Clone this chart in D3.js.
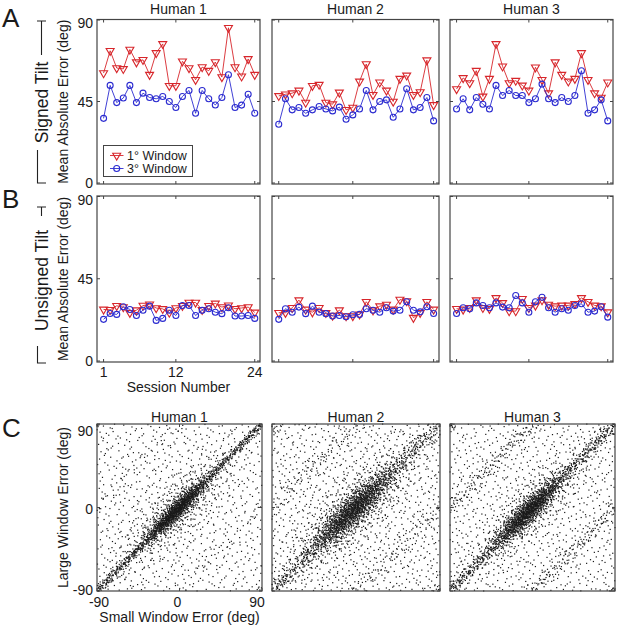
<!DOCTYPE html>
<html><head><meta charset="utf-8">
<script src="https://cdn.jsdelivr.net/npm/d3@7"></script>
<style>body{margin:0;background:#fff}svg{display:block}text{font-family:"Liberation Sans",Arial,Helvetica,sans-serif;fill:#1a1a1a}</style>
</head><body><div id="chart"></div>
<script>
// ---------------- DATA ----------------
const humans = ["Human 1", "Human 2", "Human 3"];
const sessions = [1,2,3,4,5,6,7,8,9,10,11,12,13,14,15,16,17,18,19,20,21,22,23,24];
const sessionTicks = [1, 12, 24];
const errorTicks = [0, 45, 90];
const scatterTicks = [-90, 0, 90];
const legendLabels = ["1\u00B0 Window", "3\u00B0 Window"];

// Panel A: signed tilt, mean absolute error (deg)
const signed1_H1 = [60.7,73,63.5,63,73.7,66.7,68,59.8,71.8,76.8,53.7,53.7,67.2,63.5,57,64,62,66.8,58.5,85.7,64,58.9,68.5,59.8];
const signed3_H1 = [35.7,53.9,44.4,46.9,53.9,44.4,49.6,47.2,46.5,47.8,45,41.7,47.8,51.1,38.5,51.1,46.5,43.1,47.2,59.8,41.7,43,49,38.5];
const signed1_H2 = [48.1,49,49.6,51.1,44.4,53.7,54.3,44.4,43.5,50,40.4,41.7,56.1,65.7,48.7,55.6,51.1,45,57.6,59.4,48.7,50.2,67.8,43.1];
const signed3_H2 = [32.4,46.5,40.4,41.7,38.5,40.4,42.2,40.9,39.8,41.9,35.2,37.6,40.9,51.1,40.4,45,45.9,36.3,40.9,52,40.4,41.7,47.2,34.3];
const signed1_H3 = [51.9,58,55.2,62,47.8,57.6,76.8,64.4,55.2,56.5,53.9,51.1,63.9,57,49.6,66.7,59.8,56.1,57.6,71.8,57,49.6,47.2,55.6];
const signed3_H3 = [40.9,46.5,40.4,47.2,43.5,40.9,53.9,48.3,51.1,48.3,48.3,44.4,46.5,54.6,46.5,44.4,47.2,45,48.3,62,38.5,40.4,45.9,34.3];

// Panel B: unsigned tilt
const unsigned1_H1 = [28.2,28,30.2,29.5,26.4,27.8,30.3,31,29,28.5,26.5,29,30.2,32,32,28,30.2,31.5,29.5,30.5,28.6,29,29.5,26.6];
const unsigned3_H1 = [22.8,26,25.5,29.7,28.2,24.9,27.8,30,22.2,23.3,27.8,24.9,30.4,30.4,24.9,27.7,28.6,26.7,25.9,29.1,24.6,24.6,24.9,23.3];
const unsigned1_H2 = [26.4,26.4,29.1,33.3,28.2,26.7,29.1,26.4,24.9,27.8,24.6,24.6,25.5,32.4,27.8,30,30.9,28.2,33.6,32.8,23.7,26.4,32.4,28.2];
const unsigned3_H2 = [22.8,28.6,26.7,29.5,25.9,30,26.7,25.9,24.6,24.9,24.2,25.3,25.5,28.6,27.8,26.7,29.1,27.3,27.8,32.4,27.8,26.9,29.7,26];
const unsigned1_H3 = [28.6,28.2,29.1,33.3,29.1,28.6,34.5,31.8,27.3,27.3,34,29.1,30.4,33.3,30.9,30,30.4,30.4,31.3,34.5,32.4,30.4,30,26.7];
const unsigned3_H3 = [26,29.1,28.6,31.8,30.4,29.1,31.8,29.5,29.1,35.8,31.8,26.7,32.4,34.9,29.1,26.7,28.6,27.8,30.4,31.3,26.7,27.3,29.7,24];

// Panel C: trial scatter, described by components
const scatterUniformN   = [800, 1000, 850];  // diffuse background trials
const scatterBandN      = [750, 600, 700];   // trials along the y = x diagonal
const scatterBandSD     = [2.2, 4.5, 3.5];
const scatterCoreN      = [900, 1100, 950];  // dense central cluster
const scatterCoreCenter = [-3, -3, -4];
const scatterCoreAlong  = [16, 20, 17];
const scatterCoreWidth  = [4.5, 7, 5.5];
const scatterHaloN      = [450, 550, 400];   // looser cloud around the centre
const scatterHaloAlong  = [30, 32, 30];
const scatterHaloWidth  = [14, 15, 13];
const scatterWrapN      = [60, 150, 260];    // band offset by 90 deg
const scatterWrapSD     = [7, 7, 6];

// ---------------- LAYOUT ----------------
const W = 617, H = 631;
const svg = d3.select("#chart").append("svg").attr("width", W).attr("height", H);
const RED = "#d7262b", BLUE = "#2b2bd0", AX = "#444";
const colsAB = [[97,260],[272,439],[450,613]];
const colsC  = [[97,262],[272,440],[450,615]];
const rowA = [19.5, 184], rowB = [196, 362], rowC = [424, 591];

const signedSets = [[signed1_H1, signed3_H1],[signed1_H2, signed3_H2],[signed1_H3, signed3_H3]];
const unsignedSets = [[unsigned1_H1, unsigned3_H1],[unsigned1_H2, unsigned3_H2],[unsigned1_H3, unsigned3_H3]];

function frame(x0, x1, y0, y1, xs, ys, xt, yt) {
  const g = svg.append("g");
  g.append("rect").attr("x", x0).attr("y", y0).attr("width", x1 - x0).attr("height", y1 - y0)
    .attr("fill", "none").attr("stroke", AX).attr("stroke-width", 1.2);
  xt.forEach(v => {
    const x = xs(v);
    g.append("line").attr("x1", x).attr("x2", x).attr("y1", y1).attr("y2", y1 - 3).attr("stroke", AX);
    g.append("line").attr("x1", x).attr("x2", x).attr("y1", y0).attr("y2", y0 + 3).attr("stroke", AX);
  });
  yt.forEach(v => {
    const y = ys(v);
    g.append("line").attr("x1", x0).attr("x2", x0 + 3).attr("y1", y).attr("y2", y).attr("stroke", AX);
    g.append("line").attr("x1", x1).attr("x2", x1 - 3).attr("y1", y).attr("y2", y).attr("stroke", AX);
  });
}

const triPath = "M-4,-2.3L4,-2.3L0,4.6Z";

function seriesPanel(col, row, sets, ci, showX) {
  const xs = d3.scaleLinear().domain([0, 24.8]).range(col);
  const ys = d3.scaleLinear().domain([0, 90]).range([row[1] - 1, row[0] + 0.5]);
  frame(col[0], col[1], row[0], row[1], xs, ys, sessionTicks, errorTicks);
  const line = d3.line().x((d, i) => xs(sessions[i])).y(d => ys(d));
  const g = svg.append("g");
  g.append("path").datum(sets[0]).attr("d", line).attr("fill", "none").attr("stroke", RED).attr("stroke-width", 0.9);
  g.selectAll(".tri").data(sets[0]).join("path").attr("d", triPath)
    .attr("transform", (d, i) => `translate(${xs(sessions[i])},${ys(d)})`)
    .attr("fill", "none").attr("stroke", RED).attr("stroke-width", 1.1);
  g.append("path").datum(sets[1]).attr("d", line).attr("fill", "none").attr("stroke", BLUE).attr("stroke-width", 0.9);
  g.selectAll(".cir").data(sets[1]).join("circle")
    .attr("cx", (d, i) => xs(sessions[i])).attr("cy", d => ys(d)).attr("r", 3)
    .attr("fill", "none").attr("stroke", BLUE).attr("stroke-width", 1.1);
  if (ci === 0) {
    errorTicks.forEach(v => {
      svg.append("text").attr("x", col[0] - 4).attr("y", ys(v) + (v === 90 ? 3 : 0))
        .attr("text-anchor", "end").attr("dominant-baseline", "central").attr("font-size", 14).text(v);
    });
    if (showX) {
      sessionTicks.forEach(v => {
        svg.append("text").attr("x", xs(v)).attr("y", row[1] + 15).attr("text-anchor", "middle")
          .attr("font-size", 14).text(v);
      });
      svg.append("text").attr("x", (col[0] + col[1]) / 2).attr("y", row[1] + 30).attr("text-anchor", "middle")
        .attr("font-size", 14).text("Session Number");
    }
  }
}

humans.forEach((h, ci) => {
  const cA = colsAB[ci];
  svg.append("text").attr("x", (cA[0] + cA[1]) / 2).attr("y", 13.5).attr("text-anchor", "middle").attr("font-size", 14).text(h);
  seriesPanel(cA, rowA, signedSets[ci], ci, false);
  seriesPanel(cA, rowB, unsignedSets[ci], ci, true);
});

// Legend (panel A, Human 1)
(function () {
  const lg = svg.append("g");
  lg.append("rect").attr("x", 103.5).attr("y", 145.5).attr("width", 89).attr("height", 31)
    .attr("fill", "#fff").attr("stroke", AX).attr("stroke-width", 1);
  const cols = [RED, BLUE];
  legendLabels.forEach((t, i) => {
    const y = 155.5 + i * 13;
    lg.append("line").attr("x1", 110).attr("x2", 123.5).attr("y1", y).attr("y2", y).attr("stroke", cols[i]).attr("stroke-width", 0.9);
    if (i === 0) lg.append("path").attr("d", triPath).attr("transform", `translate(116.7,${y})`).attr("fill", "none").attr("stroke", RED).attr("stroke-width", 1.1);
    else lg.append("circle").attr("cx", 116.7).attr("cy", y).attr("r", 3).attr("fill", "none").attr("stroke", BLUE).attr("stroke-width", 1.1);
    lg.append("text").attr("x", 127).attr("y", y + 4.3).attr("font-size", 12.5).text(t);
  });
})();

// Left side labels
function sideLabel(text, x, cy, fs) {
  svg.append("text").attr("transform", `translate(${x},${cy}) rotate(-90)`).attr("text-anchor", "middle")
    .attr("dominant-baseline", "central").attr("font-size", fs).text(text);
}
sideLabel("Mean Absolute Error (deg)", 63, (rowA[0] + rowA[1]) / 2, 14);
sideLabel("Mean Absolute Error (deg)", 63, (rowB[0] + rowB[1]) / 2, 14);
sideLabel("Signed Tilt", 42, 102.5, 17.5);
sideLabel("Unsigned Tilt", 42, 280.5, 17.5);
sideLabel("Large Window Error (deg)", 63, (rowC[0] + rowC[1]) / 2, 14);

function bracket(yTop, yTextTop, yTextBot, yBot) {
  const g = svg.append("g").attr("stroke", "#222").attr("stroke-width", 1.1).attr("fill", "none");
  g.append("path").attr("d", `M37,${yTop}H46M41.5,${yTop}V${yTextTop}`);
  g.append("path").attr("d", `M37.5,${yTextBot}V${yBot}H46`);
}
bracket(21, 55, 150, 183);
bracket(207, 216, 346, 363);

[["A", 27], ["B", 208], ["C", 437]].forEach(([t, y]) => {
  svg.append("text").attr("x", 2).attr("y", y).attr("font-size", 26).text(t);
});

// ---------------- PANEL C ----------------
// evenly spread (Halton) sample positions used to lay out the estimated components
function halton(i, b) { let f = 1, r = 0; while (i > 0) { f /= b; r += f * (i % b); i = Math.floor(i / b); } return r; }
function wrap(v) { return ((v + 90) % 180 + 180) % 180 - 90; }
function gauss(i, b1, b2) {
  const u1 = Math.max(halton(i, b1), 1e-6), u2 = halton(i, b2);
  const r = Math.sqrt(-2 * Math.log(u1));
  return [r * Math.cos(2 * Math.PI * u2), r * Math.sin(2 * Math.PI * u2)];
}

humans.forEach((h, ci) => {
  const col = colsC[ci];
  const xs = d3.scaleLinear().domain([-90, 90]).range(col);
  const ys = d3.scaleLinear().domain([-90, 90]).range([rowC[1], rowC[0]]);
  svg.append("text").attr("x", (col[0] + col[1]) / 2).attr("y", 421.5).attr("text-anchor", "middle").attr("font-size", 14).text(h);
  const pts = [];
  const off = 7 + ci * 4001;
  for (let k = 0; k < scatterUniformN[ci]; k++) {
    pts.push([halton(k + off, 2) * 180 - 90, halton(k + off, 3) * 180 - 90]);
  }
  for (let k = 0; k < scatterBandN[ci]; k++) {
    const i = k + off + 1500;
    const t = halton(i, 2) * 180 - 90;
    const [z1, z2] = gauss(i, 3, 5);
    pts.push([wrap(t + scatterBandSD[ci] * z1), wrap(t + scatterBandSD[ci] * z2)]);
  }
  for (let k = 0; k < scatterCoreN[ci]; k++) {
    const [a, b] = gauss(k + off + 2600, 2, 3);
    const t = scatterCoreCenter[ci] + scatterCoreAlong[ci] * a;
    const d = scatterCoreWidth[ci] * b;
    pts.push([wrap(t + d / Math.SQRT2), wrap(t - d / Math.SQRT2)]);
  }
  for (let k = 0; k < scatterHaloN[ci]; k++) {
    const [a, b] = gauss(k + off + 3700, 3, 2);
    const t = scatterCoreCenter[ci] + scatterHaloAlong[ci] * a;
    const d = scatterHaloWidth[ci] * b;
    pts.push([wrap(t + d / Math.SQRT2), wrap(t - d / Math.SQRT2)]);
  }
  for (let k = 0; k < scatterWrapN[ci]; k++) {
    const i = k + off + 900;
    const x = halton(i, 2) * 180 - 90;
    const [z1] = gauss(i, 5, 3);
    pts.push([x, wrap(x + 90 + scatterWrapSD[ci] * z1)]);
  }
  svg.append("g").selectAll("rect").data(pts).join("rect")
    .attr("x", d => xs(d[0]) - 0.6).attr("y", d => ys(d[1]) - 0.6)
    .attr("width", 1.2).attr("height", 1.2).attr("fill", "#1a1a1a");
  frame(col[0], col[1], rowC[0], rowC[1], xs, ys, scatterTicks, scatterTicks);
  if (ci === 0) {
    scatterTicks.forEach(v => {
      svg.append("text").attr("x", col[0] - 4).attr("y", ys(v) + (v === 90 ? 7 : (v === -90 ? -1 : 1)))
        .attr("text-anchor", "end").attr("dominant-baseline", "central").attr("font-size", 14).text(v);
      svg.append("text").attr("x", xs(v) + (v === 90 ? -5 : (v === -90 ? 2 : -2))).attr("y", 607)
        .attr("text-anchor", "middle").attr("font-size", 14).text(v);
    });
    svg.append("text").attr("x", (col[0] + col[1]) / 2).attr("y", 621.5).attr("text-anchor", "middle")
      .attr("font-size", 14).text("Small Window Error (deg)");
  }
});
</script></body></html>
